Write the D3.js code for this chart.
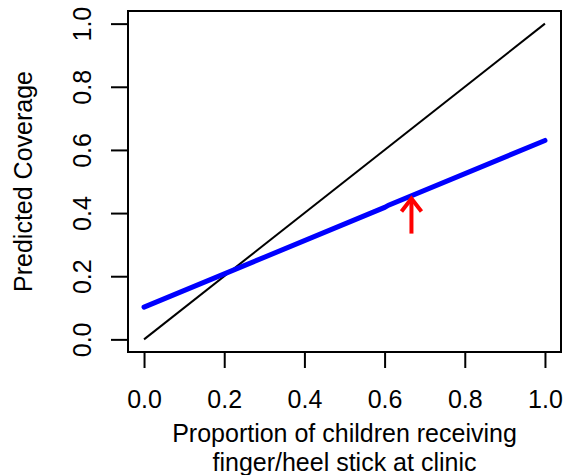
<!DOCTYPE html>
<html><head><meta charset="utf-8">
<script src="https://cdn.jsdelivr.net/npm/d3@7"></script>
<style>body{margin:0;background:#fff}svg{display:block}text{font-family:"Liberation Sans",Arial,sans-serif;fill:#000}</style>
</head><body>
<svg id="c" width="564" height="475"></svg>
<script>
const xTicks = [0, 0.2, 0.4, 0.6, 0.8, 1.0];
const yTicks = [0, 0.2, 0.4, 0.6, 0.8, 1.0];
const identityLine = [[0, 0], [1, 1]];
const predictedLine = [[0, 0.102], [0.6, 0.418], [0.61, 0.425], [1, 0.63]];
const arrowX = 0.667, arrowTip = 0.446, arrowTail = 0.335;
const xLabel = ["Proportion of children receiving", "finger/heel stick at clinic"];
const yLabel = "Predicted Coverage";

const svg = d3.select("#c");
const box = {l:128, r:561, t:11, b:352};
const pad = 0.04;
const x = d3.scaleLinear().domain([-pad, 1+pad]).range([box.l, box.r]);
const y = d3.scaleLinear().domain([-pad, 1+pad]).range([box.b, box.t]);

const line = d3.line().x(d=>x(d[0])).y(d=>y(d[1]));
svg.append("path").attr("d", line(identityLine)).attr("fill","none").attr("stroke","#000").attr("stroke-width",2);
svg.append("path").attr("d", line(predictedLine)).attr("fill","none").attr("stroke","#0000ff").attr("stroke-width",5).attr("stroke-linecap","round");

// arrow
const ax = x(arrowX), tipY = y(arrowTip), tailY = y(arrowTail);
svg.append("line").attr("x1",ax).attr("x2",ax).attr("y1",tailY).attr("y2",tipY+2).attr("stroke","#ff0000").attr("stroke-width",4);
svg.append("path").attr("d",`M${ax-10},${tipY+13} L${ax},${tipY} L${ax+10},${tipY+13}`).attr("fill","none").attr("stroke","#ff0000").attr("stroke-width",4);

// box
svg.append("rect").attr("x",box.l).attr("y",box.t).attr("width",box.r-box.l).attr("height",box.b-box.t).attr("fill","none").attr("stroke","#000").attr("stroke-width",2);

// x axis
const xa = svg.append("g").attr("transform",`translate(0,${box.b})`)
  .call(d3.axisBottom(x).tickValues(xTicks).tickFormat(d3.format(".1f")).tickSize(16).tickPadding(22));
xa.select(".domain").attr("d",`M${x(0)},0H${x(1)}`).attr("stroke-width",2);
xa.selectAll(".tick line").attr("stroke-width",2);
xa.selectAll("text").attr("font-size",25).attr("font-family","Liberation Sans, Arial, sans-serif");

// y axis
const ya = svg.append("g").attr("transform",`translate(${box.l},0)`)
  .call(d3.axisLeft(y).tickValues(yTicks).tickFormat(d3.format(".1f")).tickSize(17).tickPadding(0));
ya.select(".domain").attr("d",`M0,${y(0)}V${y(1)}`).attr("stroke-width",2);
ya.selectAll(".tick line").attr("stroke-width",2);
ya.selectAll("text").attr("font-size",25).attr("font-family","Liberation Sans, Arial, sans-serif")
  .attr("x",null).attr("dy",null).attr("text-anchor","middle")
  .attr("transform","translate(-37,0) rotate(-90)");

// labels
svg.append("text").attr("x",(box.l+box.r)/2+0).attr("y",442).attr("text-anchor","middle").attr("font-size",25).text(xLabel[0]);
svg.append("text").attr("x",(box.l+box.r)/2+0).attr("y",471).attr("text-anchor","middle").attr("font-size",25).text(xLabel[1]);
svg.append("text").attr("transform",`translate(32,${(box.t+box.b)/2}) rotate(-90)`).attr("text-anchor","middle").attr("font-size",25).text(yLabel);
</script>
</body></html>
